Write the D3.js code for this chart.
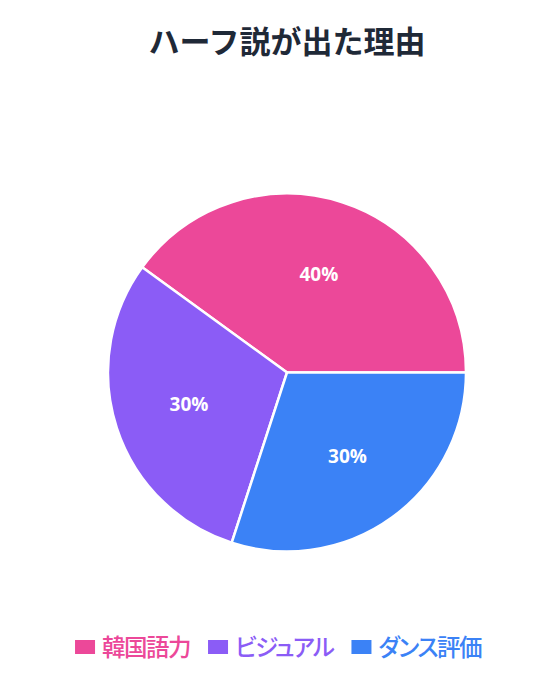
<!DOCTYPE html>
<html>
<head>
<meta charset="utf-8">
<script src="https://cdn.jsdelivr.net/npm/d3@7"></script>
<style>
  body { margin: 0; background: #ffffff; }
  svg { display: block; }
</style>
</head>
<body>
<div id="chart"></div>
<script>
const categories = ["韓国語力", "ビジュアル", "ダンス評価"]
const values = [40, 30, 30]
const colors = ["#ec4899", "#8b5cf6", "#3b82f6"]
const title = "ハーフ説が出た理由"

const width = 557
const height = 685
const cx = 287
const cy = 372.5
const radius = 179
const font = "'Noto Sans CJK JP', 'Noto Sans', sans-serif"

const svg = d3.select("#chart").append("svg")
    .attr("width", width)
    .attr("height", height)

svg.append("text")
    .attr("x", cx)
    .attr("y", 53)
    .attr("text-anchor", "middle")
    .style("font-family", font)
    .style("font-size", "31px")
    .style("font-weight", "bold")
    .style("fill", "#1f2937")
    .text(title)

// pie goes counterclockwise from 3 o'clock
const pie = d3.pie()
    .sort(null)
    .value(d => d)
    .startAngle(Math.PI / 2)
    .endAngle(Math.PI / 2 - 2 * Math.PI)

const arcs = pie(values)
const total = d3.sum(values)

const arc = d3.arc().innerRadius(0).outerRadius(radius)
const labelArc = d3.arc().innerRadius(0).outerRadius(206)

const g = svg.append("g")
    .attr("transform", "translate(" + cx + "," + cy + ")")

g.selectAll("path")
    .data(arcs)
    .enter()
    .append("path")
    .attr("d", arc)
    .style("fill", (d, i) => colors[i])
    .style("stroke", "#ffffff")
    .style("stroke-width", 2.5)

g.selectAll("text.pct")
    .data(arcs)
    .enter()
    .append("text")
    .attr("class", "pct")
    .attr("transform", d => "translate(" + labelArc.centroid(d) + ")")
    .attr("text-anchor", "middle")
    .attr("dy", "0.36em")
    .style("font-family", "'Open Sans', 'Noto Sans', sans-serif")
    .style("font-size", "19px")
    .style("font-weight", "bold")
    .style("fill", "#ffffff")
    .text(d => Math.round(d.value / total * 100) + "%")

// legend
const legend = svg.append("g")
const boxW = 20, boxH = 14, boxGap = 7, itemGap = 18
let x = 0
categories.forEach((c, i) => {
    const item = legend.append("g").attr("transform", "translate(" + x + ",0)")
    item.append("rect")
        .attr("x", 0)
        .attr("y", 647 - boxH / 2)
        .attr("width", boxW)
        .attr("height", boxH)
        .style("fill", colors[i])
    const t = item.append("text")
        .attr("x", boxW + boxGap)
        .attr("y", 655.5)
        .style("font-family", font)
        .style("font-size", "23.5px")
        .style("font-weight", 500)
        .style("font-feature-settings", "'palt' 1")
        .style("letter-spacing", "-1.5px")
        .style("fill", colors[i])
        .text(c)
    x += boxW + boxGap + t.node().getComputedTextLength() + itemGap
})
const legendW = x - itemGap
legend.attr("transform", "translate(" + (278 - legendW / 2) + ",0)")
</script>
</body>
</html>
